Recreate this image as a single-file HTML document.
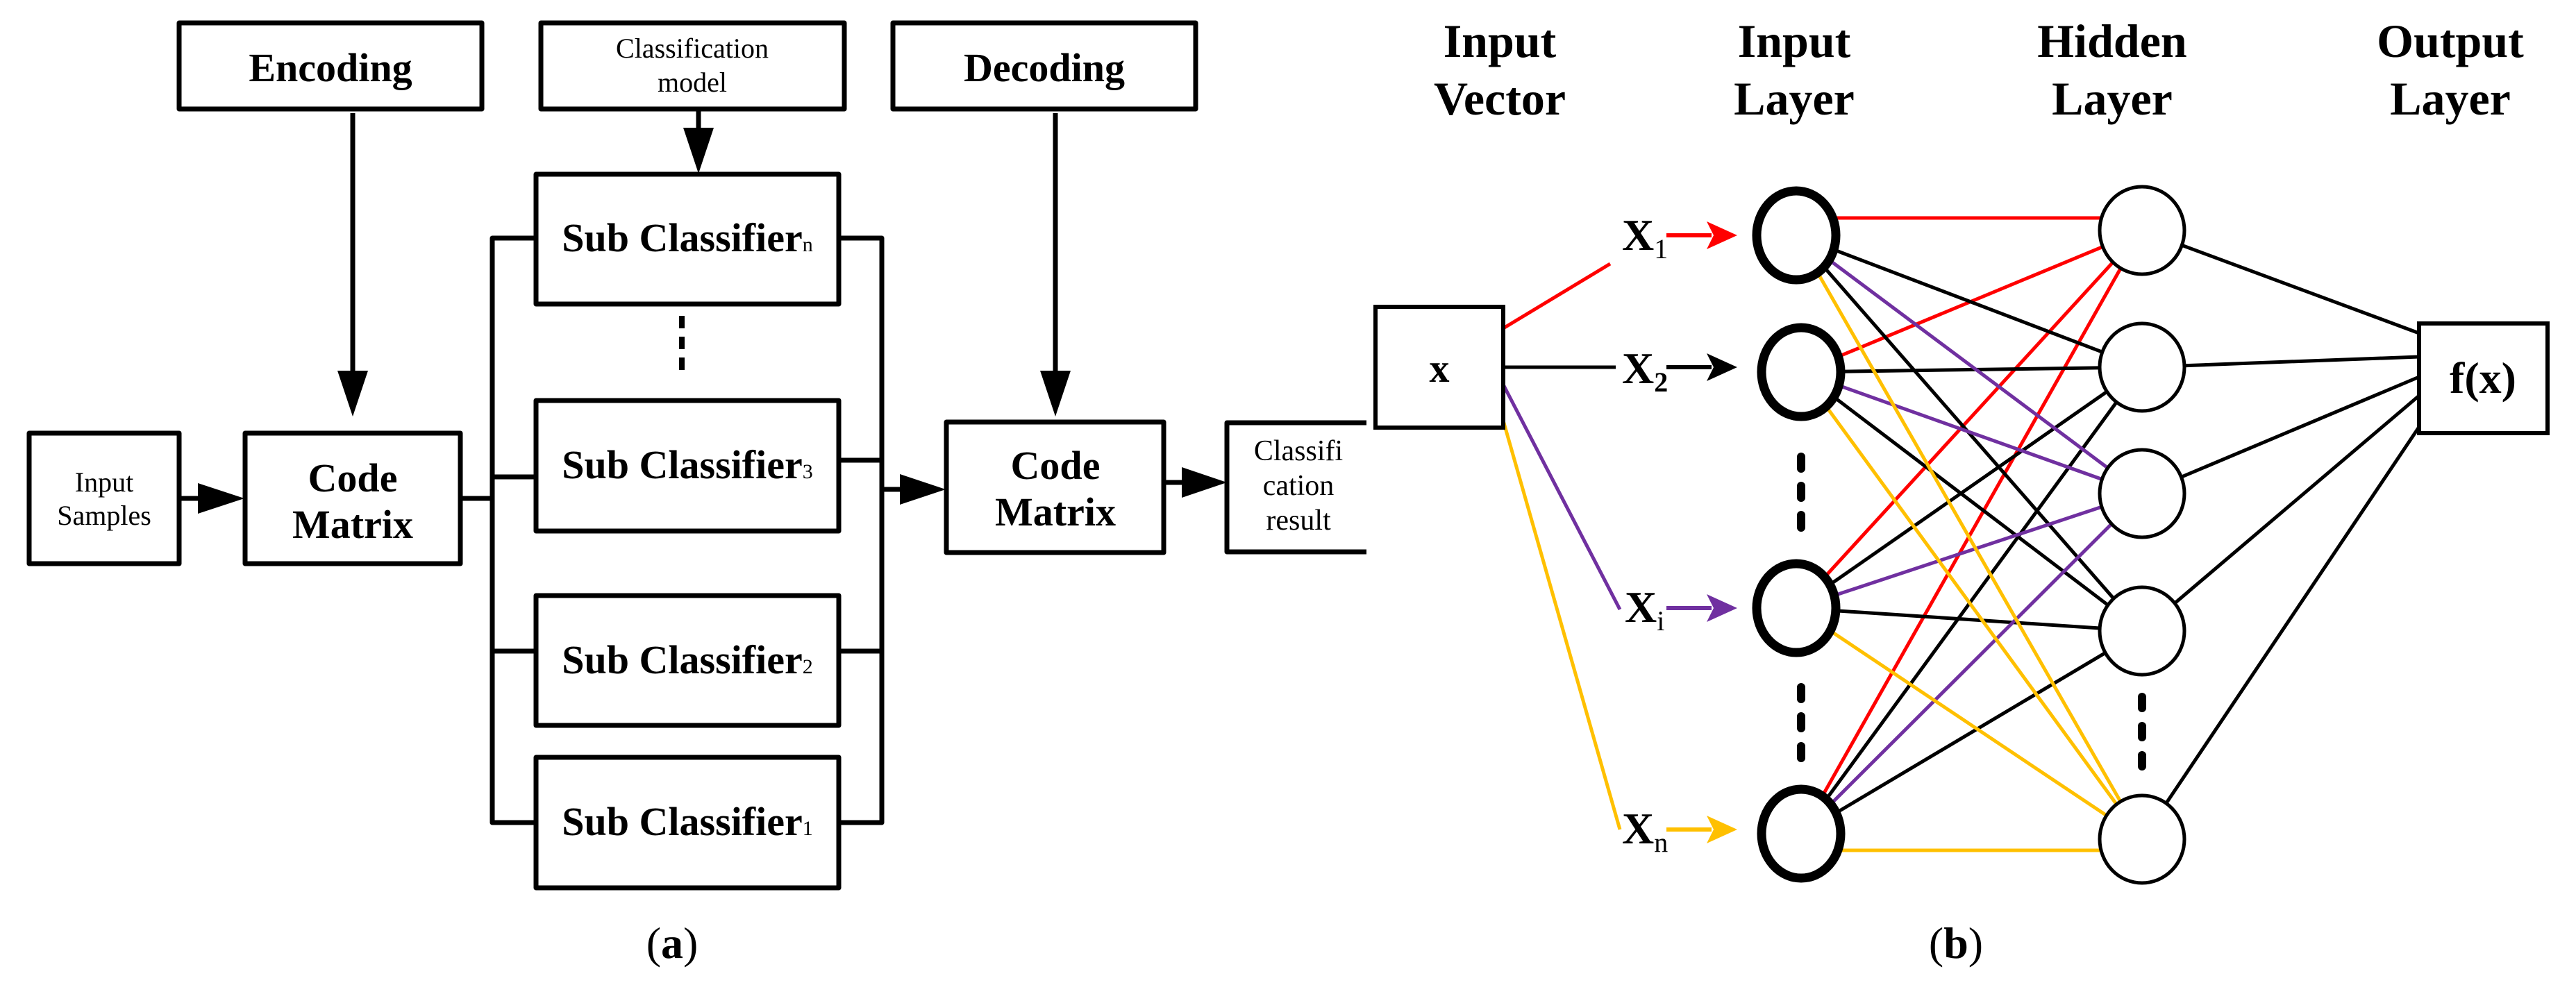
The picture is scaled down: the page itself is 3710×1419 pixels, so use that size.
<!DOCTYPE html>
<html><head><meta charset="utf-8"><style>html,body{margin:0;padding:0;background:#fff}svg{display:block}</style></head>
<body>
<svg width="3710" height="1419" viewBox="0 0 3710 1419" xmlns="http://www.w3.org/2000/svg">
<g fill="none" stroke="#000" stroke-width="7" stroke-linejoin="round">
  <rect x="258" y="33" width="436" height="124"/>
  <rect x="779" y="33" width="437" height="124"/>
  <rect x="1286" y="33" width="436" height="124"/>
  <rect x="772" y="251" width="436" height="187"/>
  <rect x="772" y="577" width="436" height="188"/>
  <rect x="772" y="858" width="436" height="187"/>
  <rect x="772" y="1091" width="436" height="188"/>
  <rect x="42" y="624" width="216" height="188"/>
  <rect x="353" y="624" width="310" height="188"/>
  <rect x="1363" y="608" width="313" height="188"/>
  <path d="M1968 609 H1767 V795 H1968"/>
  <path d="M772 343 H709 V1185 H772 M709 687 H772 M709 938 H772 M663 718 H709"/>
  <path d="M1208 343 H1270 V1185 H1208 M1270 663 H1208 M1270 938 H1208"/>
  <path d="M508 163 V540 M1006 158 V190 M1520 163 V540 M258 718 H290 M1270 705 H1300 M1676 695 H1705"/>
  <path d="M982 455 V540" stroke-dasharray="18 12" stroke-width="8"/>
</g>
<g fill="#000">
  <polygon points="486,534 530,534 508,600"/>
  <polygon points="984,184 1028,184 1006,250"/>
  <polygon points="1498,534 1542,534 1520,600"/>
  <polygon points="285,696 285,740 352,718"/>
  <polygon points="1296,683 1296,727 1362,705"/>
  <polygon points="1702,673 1702,717 1767,695"/>
</g>
<g fill="none" stroke-width="5">
  <line x1="2165" y1="473" x2="2319" y2="380" stroke="#ff0000"/>
  <line x1="2165" y1="529" x2="2327" y2="529" stroke="#000"/>
  <line x1="2165" y1="554" x2="2333" y2="878" stroke="#7030a0"/>
  <line x1="2165" y1="606" x2="2333" y2="1195" stroke="#ffc000"/>
  <g stroke="#ff0000">
    <line x1="2587" y1="314" x2="3085" y2="314"/>
    <line x1="2594" y1="536" x2="3085" y2="332"/>
    <line x1="2587" y1="876" x2="3085" y2="332"/>
    <line x1="2594" y1="1201" x2="3085" y2="332"/>
  </g>
  <g stroke="#000">
    <line x1="2587" y1="339" x2="3085" y2="529"/>
    <line x1="2594" y1="536" x2="3085" y2="529"/>
    <line x1="2587" y1="876" x2="3085" y2="529"/>
    <line x1="2594" y1="1201" x2="3085" y2="529"/>
    <line x1="2587" y1="339" x2="3085" y2="909"/>
    <line x1="2594" y1="536" x2="3085" y2="909"/>
    <line x1="2587" y1="876" x2="3085" y2="909"/>
    <line x1="2594" y1="1201" x2="3085" y2="909"/>
    <line x1="3085" y1="332" x2="3484" y2="480"/>
    <line x1="3085" y1="529" x2="3484" y2="514"/>
    <line x1="3085" y1="711" x2="3484" y2="543"/>
    <line x1="3085" y1="909" x2="3484" y2="570"/>
    <line x1="3085" y1="1209" x2="3484" y2="615"/>
  </g>
  <g stroke="#7030a0">
    <line x1="2587" y1="339" x2="3085" y2="711"/>
    <line x1="2594" y1="536" x2="3085" y2="711"/>
    <line x1="2587" y1="876" x2="3085" y2="711"/>
    <line x1="2594" y1="1201" x2="3085" y2="711"/>
  </g>
  <g stroke="#ffc000">
    <line x1="2587" y1="339" x2="3085" y2="1209"/>
    <line x1="2594" y1="536" x2="3085" y2="1209"/>
    <line x1="2587" y1="876" x2="3085" y2="1209"/>
    <line x1="2594" y1="1225" x2="3085" y2="1225"/>
  </g>
</g>
<g fill="#fff" stroke="#000">
  <g stroke-width="13">
    <ellipse cx="2587" cy="339" rx="57" ry="64"/>
    <ellipse cx="2594" cy="536" rx="57" ry="64"/>
    <ellipse cx="2587" cy="876" rx="57" ry="64"/>
    <ellipse cx="2594" cy="1201" rx="57" ry="64"/>
  </g>
  <g stroke-width="5">
    <ellipse cx="3085" cy="332" rx="61" ry="63"/>
    <ellipse cx="3085" cy="529" rx="61" ry="63"/>
    <ellipse cx="3085" cy="711" rx="61" ry="63"/>
    <ellipse cx="3085" cy="909" rx="61" ry="63"/>
    <ellipse cx="3085" cy="1209" rx="61" ry="63"/>
  </g>
  <rect x="1981" y="442" width="184" height="174" stroke-width="6"/>
  <rect x="3484" y="466" width="185" height="158" stroke-width="6"/>
</g>
<g stroke="#000" stroke-width="12" stroke-linecap="round">
  <path d="M2594 658 V675 M2594 700 V717 M2594 742 V760" />
  <path d="M2594 990 V1007 M2594 1032 V1049 M2594 1075 V1092" />
  <path d="M3085 1004 V1020 M3085 1046 V1062 M3085 1088 V1104" />
</g>
<g stroke-width="6">
  <line x1="2400" y1="339" x2="2465" y2="339" stroke="#ff0000"/>
  <line x1="2400" y1="529" x2="2465" y2="529" stroke="#000"/>
  <line x1="2400" y1="876" x2="2465" y2="876" stroke="#7030a0"/>
  <line x1="2400" y1="1195" x2="2465" y2="1195" stroke="#ffc000"/>
</g>
<polygon points="2458,319 2502,339 2458,359 2468,339" fill="#ff0000"/>
<polygon points="2458,509 2502,529 2458,549 2468,529" fill="#000"/>
<polygon points="2458,856 2502,876 2458,896 2468,876" fill="#7030a0"/>
<polygon points="2458,1175 2502,1195 2458,1215 2468,1195" fill="#ffc000"/>
<g font-family="'Liberation Serif', serif" text-anchor="middle" fill="#000">
  <text x="476" y="117" font-size="58" font-weight="bold">Encoding</text>
  <text x="1504" y="117" font-size="58" font-weight="bold">Decoding</text>
  <text x="997" y="83" font-size="40">Classification</text>
  <text x="997" y="132" font-size="40">model</text>
  <text x="150" y="708" font-size="40">Input</text>
  <text x="150" y="756" font-size="40">Samples</text>
  <text x="508" y="708" font-size="58" font-weight="bold">Code</text>
  <text x="508" y="775" font-size="58" font-weight="bold">Matrix</text>
  <text x="1520" y="690" font-size="58" font-weight="bold">Code</text>
  <text x="1520" y="757" font-size="58" font-weight="bold">Matrix</text>
  <text x="1870" y="663" font-size="42">Classifi</text>
  <text x="1870" y="713" font-size="42">cation</text>
  <text x="1870" y="763" font-size="42">result</text>
  <text x="990" y="362" font-size="58" font-weight="bold">Sub Classifier<tspan font-size="30" font-weight="normal">n</tspan></text>
  <text x="990" y="689" font-size="58" font-weight="bold">Sub Classifier<tspan font-size="30" font-weight="normal">3</tspan></text>
  <text x="990" y="970" font-size="58" font-weight="bold">Sub Classifier<tspan font-size="30" font-weight="normal">2</tspan></text>
  <text x="990" y="1203" font-size="58" font-weight="bold">Sub Classifier<tspan font-size="30" font-weight="normal">1</tspan></text>
  <text x="968" y="1380" font-size="64">(<tspan font-weight="bold">a</tspan>)</text>
  <text x="2817" y="1380" font-size="64">(<tspan font-weight="bold">b</tspan>)</text>
  <g font-size="68" font-weight="bold">
    <text x="2160" y="82">Input</text><text x="2160" y="165">Vector</text>
    <text x="2584" y="82">Input</text><text x="2584" y="165">Layer</text>
    <text x="3042" y="82">Hidden</text><text x="3042" y="165">Layer</text>
    <text x="3529" y="82">Output</text><text x="3529" y="165">Layer</text>
  </g>
  <text x="2073" y="550" font-size="58" font-weight="bold">x</text>
  <text x="3576" y="566" font-size="64" font-weight="bold">f(x)</text>
</g>
<g font-family="'Liberation Serif', serif" font-weight="bold" font-size="64" fill="#000">
  <text x="2336" y="360">X<tspan font-size="40" font-weight="normal" dy="12">1</tspan></text>
  <text x="2336" y="552">X<tspan font-size="40" font-weight="bold" dy="12">2</tspan></text>
  <text x="2340" y="896">X<tspan font-size="40" font-weight="normal" dy="12">i</tspan></text>
  <text x="2336" y="1215">X<tspan font-size="40" font-weight="normal" dy="12">n</tspan></text>
</g>
</svg>
</body></html>
